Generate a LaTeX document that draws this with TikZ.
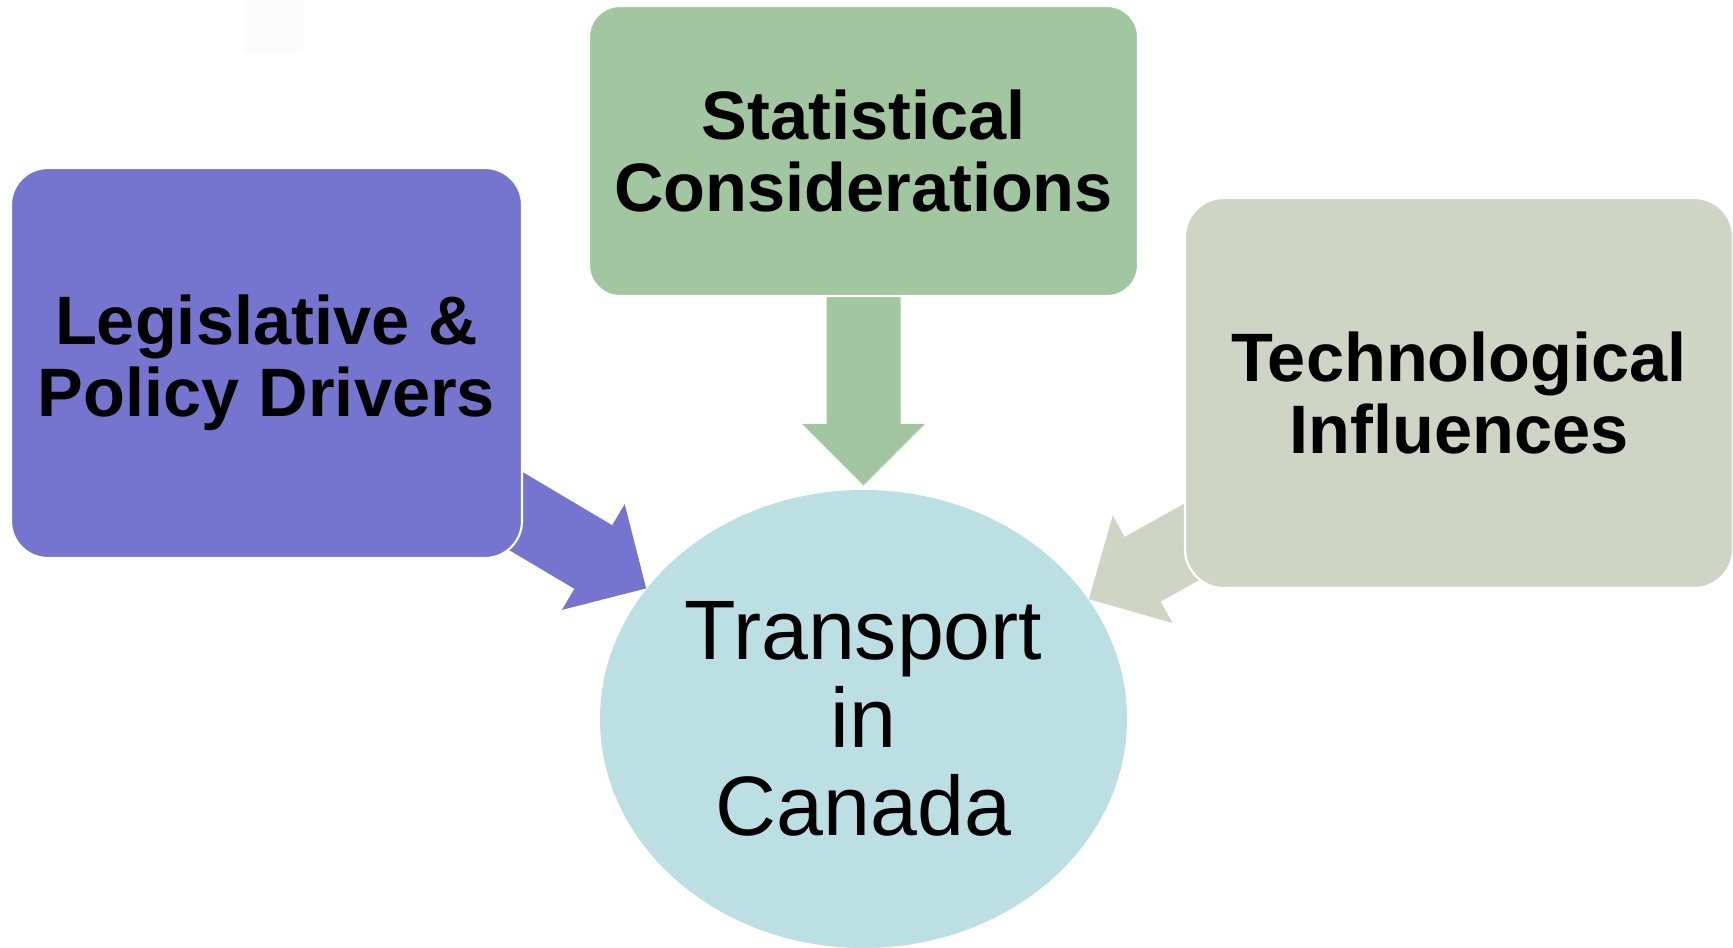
\documentclass[tikz,border=0pt]{standalone}
\usepackage{fontspec}
\setmainfont{Liberation Sans}
\usetikzlibrary{shapes.geometric,calc,backgrounds}

\definecolor{legalblue}{HTML}{7575CF}
\definecolor{statgreen}{HTML}{A1C6A0}
\definecolor{techgray}{HTML}{CFD5C4}
\definecolor{canadacyan}{HTML}{BBDFE2}
\definecolor{faintgray}{HTML}{FCFCFC}

% fat arrow from #2 to #3, filled with #1
\newcommand{\blockarrow}[3]{%
    \coordinate (neck) at ($(#3)!0.615cm!(#2)$);
    \fill[#1] ($(#2)!0.37cm!90:(#3)$) -- ($(neck)!0.37cm!90:(#3)$)
        -- ($(neck)!0.615cm!90:(#3)$) -- (#3)
        -- ($(neck)!0.615cm!-90:(#3)$) -- ($(neck)!0.37cm!-90:(#3)$)
        -- ($(#2)!0.37cm!-90:(#3)$) -- cycle;
}

\begin{document}
\begin{tikzpicture}[
    infobox/.style={rectangle, draw=white, line width=0.6pt, inner sep=0pt,
        align=center, font=\fontsize{19.5}{20.5}\selectfont\bfseries},
    hub/.style={ellipse, fill=canadacyan, inner sep=0pt, align=center,
        font=\fontsize{24}{25}\selectfont}
]
    \useasboundingbox (0,0) rectangle (17.33,-9.47);

    % faint patch near the top
    \fill[faintgray] (2.43,0) rectangle (3.03,-0.53);

    % Legislative box
    \node[infobox, fill=legalblue, minimum width=5.11cm, minimum height=3.90cm,
        rounded corners=0.37cm] (legal) at (2.665,-3.63)
        {Legislative \&\\Policy Drivers};

    % Statistical box
    \node[infobox, fill=statgreen, minimum width=5.49cm, minimum height=2.90cm,
        rounded corners=0.31cm] (stat) at (8.635,-1.51)
        {Statistical\\Considerations};

    % Technological box
    \node[infobox, fill=techgray, minimum width=5.48cm, minimum height=3.90cm,
        rounded corners=0.39cm] (tech) at (14.59,-3.93)
        {Technological\\Influences};

    % Transport in the middle
    \node[hub, minimum width=5.27cm, minimum height=4.58cm] (canada)
        at (8.635,-7.19) {Transport\\in\\Canada};

    % arrows sit under the boxes
    \coordinate (stat-tip) at ($(canada.north)+(0,0.04)$);
    \begin{scope}[on background layer]
        \blockarrow{legalblue}{legal.center}{canada.149}
        \blockarrow{statgreen}{stat.center}{stat-tip}
        \blockarrow{techgray}{tech.center}{canada.28}
    \end{scope}
\end{tikzpicture}
\end{document}
